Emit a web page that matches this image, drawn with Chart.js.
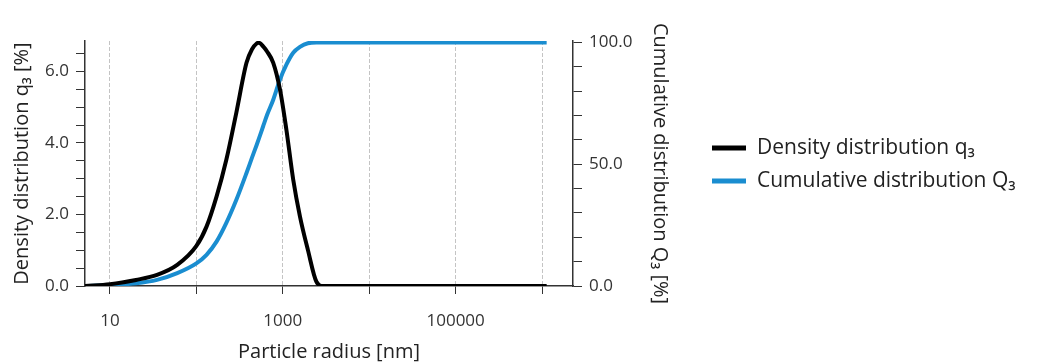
<!DOCTYPE html>
<html>
<head>
<meta charset="utf-8">
<script src="https://cdn.jsdelivr.net/npm/chart.js@4.4.0/dist/chart.umd.min.js"></script>
<style>
  html, body { margin: 0; padding: 0; background: #fff; }
  #wrap { width: 1038px; height: 364px; }
</style>
</head>
<body>
<div id="wrap"><canvas id="psdChart"></canvas></div>
<script>
// particle radius [nm] and the two distributions
const radius = [5.14, 10, 20, 35, 60, 100, 131, 171, 222, 290, 380, 440, 498, 530, 592, 660, 775, 928, 1100, 1320, 1580, 1950, 2450, 2930, 1130000];
const density = [0, 0.05, 0.17, 0.31, 0.59, 1.12, 1.66, 2.5, 3.53, 4.85, 6.24, 6.62, 6.78, 6.8, 6.7, 6.55, 6.24, 5.49, 4.37, 2.97, 1.94, 1.01, 0.12, 0, 0];
const cumulative = [0, 0.4, 1.1, 2.5, 5.3, 9.3, 12.8, 18.2, 25.9, 35.4, 46.4, 52.7, 57.9, 60.6, 65.6, 70.4, 76.5, 84.8, 90.9, 95.8, 98.2, 99.7, 100, 100, 100];

const xDecades = [10, 100, 1000, 10000, 100000, 1000000];
const xLabelled = [10, 1000, 100000];
const densityLabelled = [0, 2, 4, 6];
const cumulativeLabelled = [0, 50, 100];

const tickFont = { family: 'Open Sans', size: 17 };
const titleFont = { family: 'Open Sans', size: 20 };
const axisColor = '#333';

function toPoints(ys) {
  return radius.map((r, i) => ({ x: r, y: ys[i] }));
}

// legend sits to the right of the right axis, drawn from the datasets
const sideLegend = {
  id: 'sideLegend',
  afterDraw(chart) {
    const ctx = chart.ctx;
    ctx.save();
    ctx.font = '21px "Open Sans"';
    ctx.textBaseline = 'middle';
    chart.data.datasets.forEach((ds, i) => {
      const y = 148 + i * 33;
      ctx.fillStyle = ds.borderColor;
      ctx.fillRect(712, y - 2.5, 34, 5);
      ctx.fillStyle = '#222';
      ctx.fillText(ds.label, 757, y);
    });
    ctx.restore();
  }
};

new Chart(document.getElementById('psdChart'), {
  type: 'line',
  data: {
    datasets: [
      {
        label: 'Density distribution q\u2083',
        data: toPoints(density),
        yAxisID: 'y',
        borderColor: '#000',
        backgroundColor: '#000',
        borderWidth: 4,
        pointRadius: 0,
        cubicInterpolationMode: 'monotone'
      },
      {
        label: 'Cumulative distribution Q\u2083',
        data: toPoints(cumulative),
        yAxisID: 'y1',
        borderColor: '#1a8dd0',
        backgroundColor: '#1a8dd0',
        borderWidth: 4,
        pointRadius: 0,
        cubicInterpolationMode: 'monotone'
      }
    ]
  },
  options: {
    responsive: true,
    maintainAspectRatio: false,
    animation: false,
    layout: { padding: { top: 41, right: 365, bottom: 0, left: 0 } },
    plugins: {
      tooltip: { enabled: false },
      legend: { display: false }
    },
    scales: {
      x: {
        type: 'logarithmic',
        min: 5.14,
        max: 2280000,
        afterBuildTicks(axis) {
          axis.ticks = xDecades.map(v => ({ value: v }));
        },
        afterFit(axis) { axis.height = 78; },
        ticks: {
          autoSkip: false,
          maxRotation: 0,
          color: axisColor,
          font: tickFont,
          padding: 17,
          callback: v => xLabelled.includes(v) ? String(v) : ''
        },
        grid: {
          color: '#c4c4c4',
          lineWidth: 1,
          tickColor: axisColor,
          tickLength: 8
        },
        border: { color: axisColor, width: 1.5, dash: [4, 2] },
        title: {
          display: true,
          text: 'Particle radius [nm]',
          color: '#222',
          font: titleFont,
          padding: { top: 0, bottom: 0 }
        }
      },
      y: {
        position: 'left',
        min: 0,
        max: 6.85,
        afterBuildTicks(axis) {
          const t = [];
          for (let v = 0; v <= 6.5; v += 0.5) t.push({ value: v });
          axis.ticks = t;
        },
        afterFit(axis) { axis.width = 85; },
        ticks: {
          autoSkip: false,
          color: axisColor,
          font: tickFont,
          padding: 7,
          callback: v => densityLabelled.includes(v) ? v.toFixed(1) : ''
        },
        grid: { drawOnChartArea: false, tickColor: axisColor, tickLength: 9 },
        border: { color: axisColor, width: 1.5 },
        title: {
          display: true,
          text: 'Density distribution q\u2083 [%]',
          color: '#222',
          font: titleFont,
          padding: { top: 10, bottom: 0 }
        }
      },
      y1: {
        position: 'right',
        min: 0,
        max: 100.6,
        afterBuildTicks(axis) {
          const t = [];
          for (let v = 0; v <= 100; v += 10) t.push({ value: v });
          axis.ticks = t;
        },
        afterFit(axis) { axis.width = 100; },
        ticks: {
          autoSkip: false,
          color: axisColor,
          font: tickFont,
          padding: 7,
          callback: v => cumulativeLabelled.includes(v) ? v.toFixed(1) : ''
        },
        grid: { drawOnChartArea: false, tickColor: axisColor, tickLength: 9 },
        border: { color: axisColor, width: 1.5 },
        title: {
          display: true,
          text: 'Cumulative distribution Q\u2083 [%]',
          color: '#222',
          font: titleFont,
          padding: { top: 1, bottom: 0 }
        }
      }
    }
  },
  plugins: [sideLegend]
});
</script>
</body>
</html>
